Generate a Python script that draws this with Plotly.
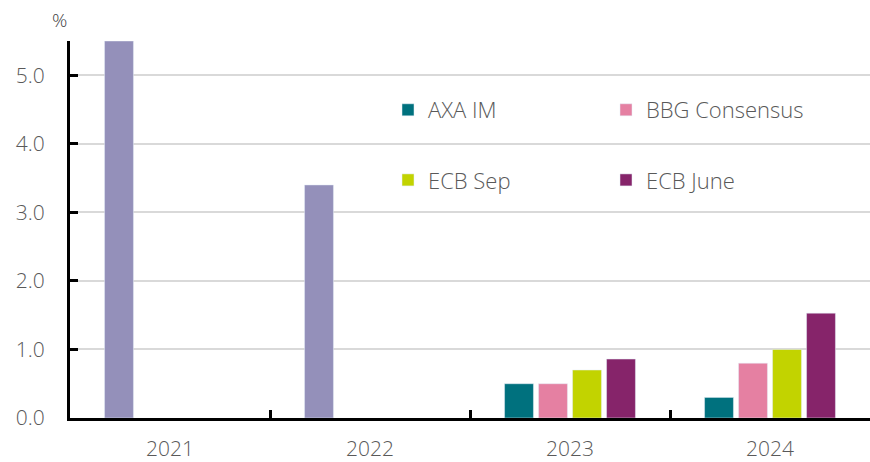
import plotly.graph_objects as go

years = ["2021", "2022", "2023", "2024"]
outturn = [5.5, 3.4, None, None]
axa_im = [None, None, 0.5, 0.3]
bbg_consensus = [None, None, 0.5, 0.8]
ecb_sep = [None, None, 0.7, 1.0]
ecb_june = [None, None, 0.86, 1.53]

y_ticks = [0, 1, 2, 3, 4, 5]
y_tick_labels = ["0.0", "1.0", "2.0", "3.0", "4.0", "5.0"]

FONT = "Open Sans"
TXT = "#595959"

fig = go.Figure()
fig.add_trace(go.Bar(x=years, y=outturn, name="Outturn", marker_color="#9490ba",
                     offsetgroup="1", showlegend=False))
fig.add_trace(go.Bar(x=years, y=axa_im, name="AXA IM", marker_color="#00717e",
                     offsetgroup="1", legend="legend"))
fig.add_trace(go.Bar(x=years, y=bbg_consensus, name="BBG Consensus", marker_color="#e580a2",
                     offsetgroup="2", legend="legend"))
fig.add_trace(go.Bar(x=years, y=ecb_sep, name="ECB Sep", marker_color="#c2d300",
                     offsetgroup="3", legend="legend2"))
fig.add_trace(go.Bar(x=years, y=ecb_june, name="ECB June", marker_color="#86246a",
                     offsetgroup="4", legend="legend2"))

legend_common = dict(orientation="h", xanchor="left", yanchor="middle",
                     entrywidth=173, entrywidthmode="pixels",
                     font=dict(family=FONT, size=22, color=TXT, weight=300),
                     bgcolor="rgba(0,0,0,0)", traceorder="normal")

fig.update_layout(
    width=870, height=462,
    margin=dict(l=70, r=0, t=41, b=44, autoexpand=False),
    paper_bgcolor="white", plot_bgcolor="white",
    barmode="group", bargap=0.32, bargroupgap=0.15,
    font=dict(family=FONT, color=TXT, size=21, weight=300),
    legend=dict(x=0.3975, y=0.817, **legend_common),
    legend2=dict(x=0.3975, y=0.631, **legend_common),
    xaxis=dict(
        type="category", showline=True, linecolor="black", linewidth=3,
        ticks="inside", tickson="boundaries", ticklen=8, tickwidth=3, tickcolor="black",
        showgrid=False, ticklabelstandoff=10, automargin=False,
        tickfont=dict(family=FONT, size=21, color=TXT, weight=300),
    ),
    yaxis=dict(
        range=[0, 5.5], tickvals=y_ticks, ticktext=y_tick_labels,
        showline=True, linecolor="black", linewidth=3,
        ticks="inside", ticklen=8, tickwidth=3, tickcolor="black",
        showgrid=True, gridcolor="#d9d9d9", gridwidth=1.5,
        zeroline=False, ticklabelstandoff=18, automargin=False,
        tickfont=dict(family=FONT, size=21, color=TXT, weight=300),
    ),
    annotations=[dict(text="%", xref="paper", yref="paper", x=0, y=1.0,
                      xanchor="right", yanchor="bottom", xshift=-1, yshift=6, showarrow=False,
                      font=dict(family=FONT, size=19, color="#404040"))],
)

fig.write_html("out.html", config={"displayModeBar": False},
               post_script="document.body.style.margin='0';")
